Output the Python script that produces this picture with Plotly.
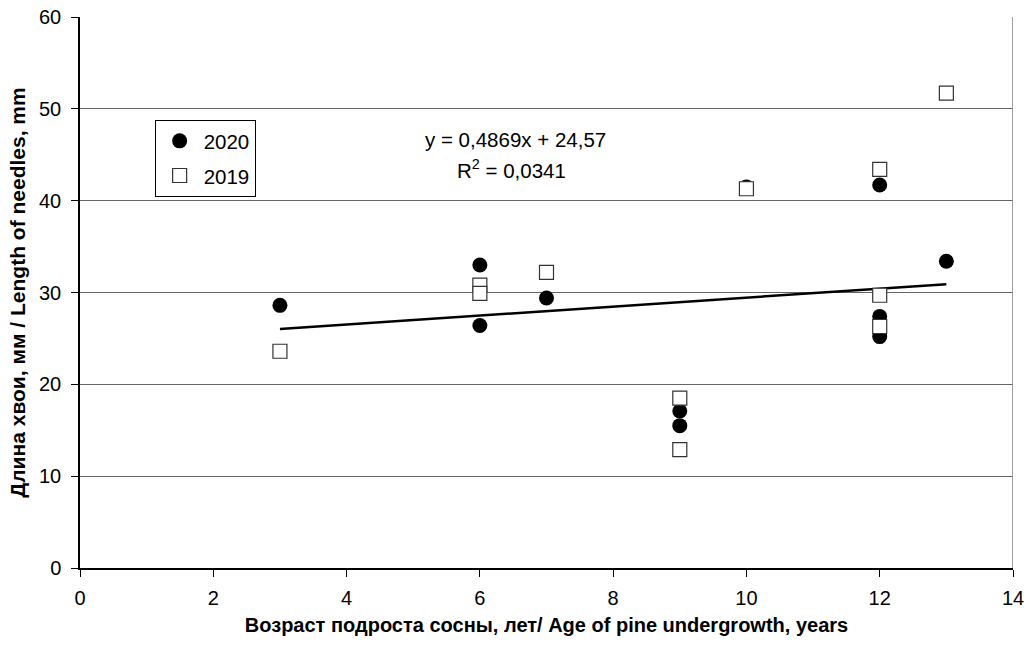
import plotly.graph_objects as go

# Needle length by age of pine undergrowth
age_2020 = [3, 6, 6, 7, 9, 9, 10, 12, 12, 12, 13]
len_2020 = [28.6, 33.0, 26.4, 29.4, 17.1, 15.5, 41.5, 41.7, 27.4, 25.2, 33.4]

age_2019 = [3, 6, 6, 7, 9, 9, 10, 12, 12, 12, 13]
len_2019 = [23.6, 30.8, 29.9, 32.2, 18.5, 12.9, 41.3, 43.4, 29.7, 26.3, 51.7]

# Linear trend y = a*x + b
slope = 0.4869
intercept = 24.57
trend_x = [3, 13]
trend_y = [slope * x + intercept for x in trend_x]

x_ticks = [0, 2, 4, 6, 8, 10, 12, 14]
y_ticks = [0, 10, 20, 30, 40, 50, 60]

FONT = "Liberation Sans, Arial, sans-serif"

fig = go.Figure()

fig.add_trace(go.Scatter(
    x=trend_x, y=trend_y, mode="lines",
    line=dict(color="black", width=2.5),
    showlegend=False, hoverinfo="skip",
))

fig.add_trace(go.Scatter(
    x=age_2020, y=len_2020, mode="markers", name="2020",
    legendgroup="a",
    marker=dict(symbol="circle", size=15, color="black",
                line=dict(color="black", width=0)),
))

fig.add_trace(go.Scatter(
    x=age_2019, y=len_2019, mode="markers", name="2019",
    legendgroup="b",
    marker=dict(symbol="square", size=14, color="white",
                line=dict(color="#333333", width=1.2)),
))

fig.add_annotation(
    x=6.53, y=46.7, xref="x", yref="y",
    text="y = 0,4869x + 24,57", showarrow=False,
    font=dict(family=FONT, size=20.5, color="black"),
)
fig.add_annotation(
    x=6.48, y=43.4, xref="x", yref="y",
    text="R<sup>2</sup> = 0,0341", showarrow=False,
    font=dict(family=FONT, size=20.5, color="black"),
)

# Right frame edge
fig.add_shape(type="line", xref="x", yref="y", x0=14, x1=14, y0=0, y1=60,
              line=dict(color="#808080", width=1.5))

fig.update_layout(
    width=1030, height=646,
    margin=dict(l=80, r=17, t=17, b=78),
    paper_bgcolor="white", plot_bgcolor="white",
    font=dict(family=FONT, size=20, color="black"),
    showlegend=True,
    legend=dict(
        x=0.080, y=0.813, xanchor="left", yanchor="top",
        bgcolor="white", bordercolor="black", borderwidth=1,
        font=dict(family=FONT, size=20.5, color="black"),
        tracegroupgap=5,
        itemwidth=38,
    ),
    xaxis=dict(
        range=[0, 14], tickvals=x_ticks, automargin=False,
        showgrid=False, zeroline=False,
        showline=True, linecolor="black", linewidth=1.5,
        ticks="outside", ticklen=7, tickcolor="black",
        tickfont=dict(size=20),
        ticklabelstandoff=4,
        title=dict(text="<b>Возраст подроста сосны, лет/ Age of pine undergrowth, years</b>",
                   font=dict(size=20), standoff=10),
    ),
    yaxis=dict(
        range=[0, 60], tickvals=y_ticks, automargin=False,
        showgrid=True, gridcolor="#666666", gridwidth=1.2,
        zeroline=False,
        showline=True, linecolor="black", linewidth=1.5,
        ticks="outside", ticklen=7, tickcolor="black",
        tickfont=dict(size=20),
        ticklabelstandoff=6,
        title=dict(text="<b>Длина хвои, мм / Length of needles, mm</b>",
                   font=dict(size=21), standoff=8),
    ),
)

fig.write_html("out.html")
